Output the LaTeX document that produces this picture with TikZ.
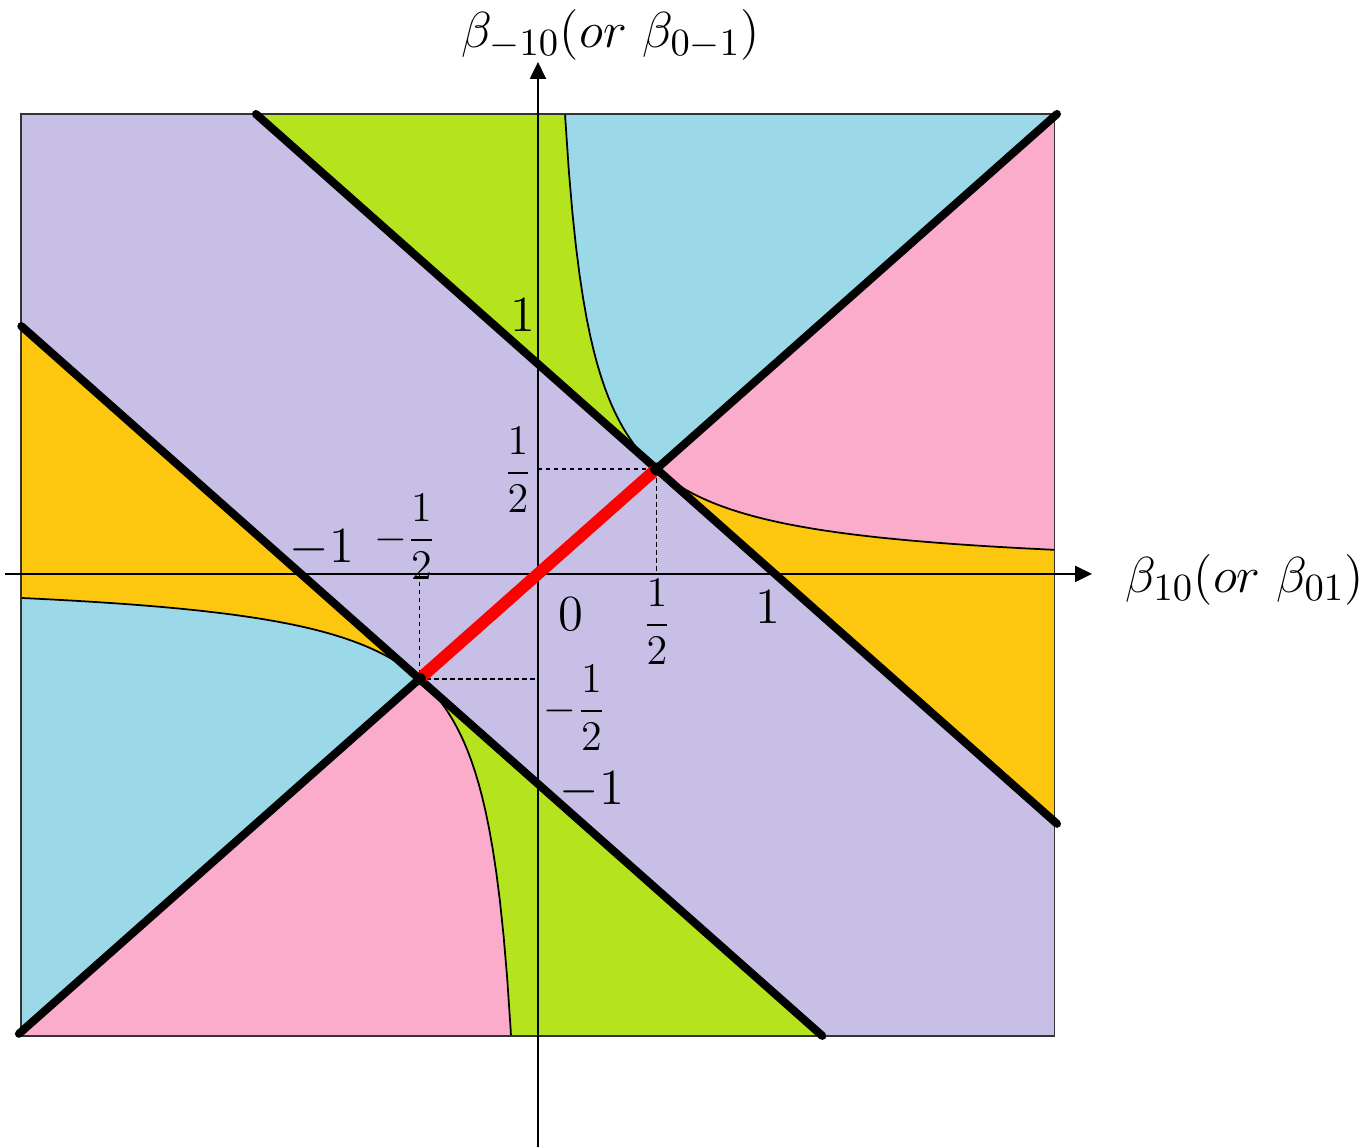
\documentclass[tikz,border=0pt]{standalone}
\usepackage{amsmath}
\usepackage{tikz}
\usetikzlibrary{arrows.meta}
\definecolor{lav}{RGB}{199,191,230}
\definecolor{skyb}{RGB}{155,216,232}
\definecolor{pinkr}{RGB}{250,172,202}
\definecolor{lime}{RGB}{181,228,30}
\definecolor{amber}{RGB}{253,198,15}
\tikzstyle{bound} = [line width=2.3pt, line cap=round]
\tikzstyle{hyp} = [line width=0.5pt]
\tikzstyle{axis} = [line width=0.6pt, -{Triangle[length=1.7mm,width=1.6mm]}]
\tikzstyle{guide} = [line width=0.35pt, dash pattern=on 0.45mm off 0.35mm]
\tikzstyle{ticklab} = [inner sep=0pt, font=\fontsize{14}{16}\selectfont]
\tikzstyle{fraclab} = [inner sep=0pt, font=\fontsize{12}{14}\selectfont]
\tikzstyle{axlab} = [inner sep=0pt, font=\fontsize{15}{18}\selectfont]

\begin{document}
\begin{tikzpicture}[x=2.37cm, y=2.1cm]
  \useasboundingbox (-2.27,-2.733) rectangle (3.494,2.733);
  \begin{scope}
    \clip (-2.18,-2.2) rectangle (2.18,2.19);
    \fill[lav] (-2.18,-2.2) rectangle (2.18,2.19);
    % x+y>1
    \fill[lime] (0.5,0.5) -- (-1.5,2.5) -- (0.1,2.5) -- plot[domain=0.1:0.5, samples=80] (\x,{0.25/\x}) -- cycle;
    \fill[skyb] (0.5,0.5) -- plot[domain=0.5:0.1, samples=80] (\x,{0.25/\x}) -- (2.5,2.5) -- cycle;
    \fill[pinkr] (0.5,0.5) -- (2.5,2.5) -- plot[domain=2.5:0.5, samples=80] (\x,{0.25/\x}) -- cycle;
    \fill[amber] (0.5,0.5) -- plot[domain=0.5:2.5, samples=80] (\x,{0.25/\x}) -- (2.5,-1.5) -- cycle;
    % x+y<-1
    \fill[lime] (-0.5,-0.5) -- (1.5,-2.5) -- (-0.1,-2.5) -- plot[domain=-0.1:-0.5, samples=80] (\x,{0.25/\x}) -- cycle;
    \fill[pinkr] (-0.5,-0.5) -- plot[domain=-0.5:-0.1, samples=80] (\x,{0.25/\x}) -- (-2.5,-2.5) -- cycle;
    \fill[skyb] (-0.5,-0.5) -- (-2.5,-2.5) -- plot[domain=-2.5:-0.5, samples=80] (\x,{0.25/\x}) -- cycle;
    \fill[amber] (-0.5,-0.5) -- plot[domain=-0.5:-2.5, samples=80] (\x,{0.25/\x}) -- (-2.5,1.5) -- cycle;
    % hyperbola xy=1/4
    \foreach \a/\b in {0.1/2.5, -0.1/-2.5}
      \draw[hyp] plot[domain=\a:\b, samples=160] (\x,{0.25/\x});
  \end{scope}
  \draw[line width=0.5pt, black!80] (-2.18,-2.2) rectangle (2.18,2.19);

  % axes
  \coordinate (xs) at (-2.249,0);
  \coordinate (xe) at (2.338,0);
  \coordinate (ys) at (0,-2.729);
  \coordinate (ye) at (0,2.438);
  \draw[axis] (xs) -- (xe);
  \draw[axis] (ys) -- (ye);

  \coordinate (ph) at (0.5,0.5);
  \coordinate (pl) at (-0.5,-0.5);
  \draw[guide] (0,0.5) -- (ph) -- (0.5,0);
  \draw[guide] (-0.5,0) -- (pl) -- (0,-0.5);

  \draw[bound] (-2.19,-2.19) -- (2.19,2.19);
  \draw[bound] (-1.19,2.19) -- (2.19,-1.19);
  \draw[bound] (-2.18,1.18) -- (1.2,-2.2);
  \draw[red, line width=3.4pt] (pl) -- (ph);
  \fill (ph) circle (1.8pt);
  \fill (pl) circle (1.8pt);

  \node[ticklab] (yone) at (-0.063,1.233) {$1$};
  \node[fraclab] (yhalf) at (-0.084,0.495) {$\dfrac{1}{2}$};
  \node[ticklab] (xmone) at (-0.911,0.124) {$-1$};
  \node[fraclab] (xmhalf) at (-0.561,0.176) {$-\dfrac{1}{2}$};
  \node[ticklab] (zero) at (0.139,-0.19) {$0$};
  \node[fraclab] (xhalf) at (0.502,-0.229) {$\dfrac{1}{2}$};
  \node[ticklab] (xone) at (0.970,-0.157) {$1$};
  \node[fraclab] (ymhalf) at (0.156,-0.638) {$-\dfrac{1}{2}$};
  \node[ticklab] (ymone) at (0.228,-1.029) {$-1$};
  \node[axlab] (ylab) at (0.308,2.567) {$\beta_{-10}(or\ \beta_{0-1})$};
  \node[axlab] (xlab) at (2.983,-0.029) {$\beta_{10}(or\ \beta_{01})$};
\end{tikzpicture}
\end{document}
